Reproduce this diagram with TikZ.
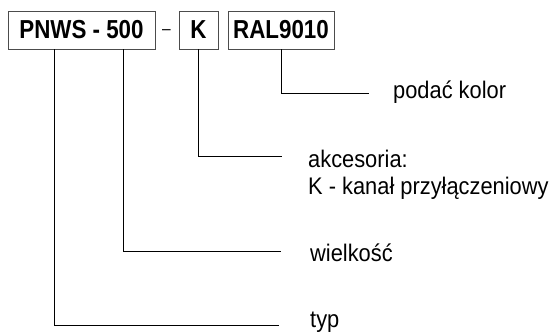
\documentclass[tikz,border=0pt]{standalone}
\usepackage{fontspec}
\setmainfont{Liberation Sans}[FakeStretch=0.91]
\newfontfamily\codefont{Liberation Sans}[FakeStretch=0.86]
\usetikzlibrary{positioning, calc}

\tikzset{
  codebox/.style={draw=black!70, line width=0.8pt, inner sep=0pt, minimum height=38pt,
    font=\codefont\bfseries\fontsize{26}{29}\selectfont},
  desc/.style={anchor=base west, inner sep=0pt, font=\fontsize{24}{28}\selectfont},
  lead/.style={line width=0.9pt}
}

\begin{document}
\begin{tikzpicture}[x=1pt, y=-1pt]
\useasboundingbox (0,0) rectangle (552,333);
\node[codebox, minimum width=147pt] (pnws) at (81.5,30) {PNWS - 500};
\node[desc, anchor=base, font=\fontsize{17}{20}\selectfont] (dash) at (166.5,34.5) {–};
\node[codebox, minimum width=39pt] (kbox) at (198.5,30) {K};
\node[codebox, minimum width=106pt] (ral) at (281,30) {RAL9010};
\node[desc] (kolor) at (393,98) {podać kolor};
\node[desc] (akces) at (308,167) {akcesoria:};
\node[desc] (kanal) at (308,194) {K - kanał przyłączeniowy};
\node[desc] (wielk) at (310,261) {wielkość};
\node[desc] (typ) at (310,327) {typ};
\coordinate (kolorend) at (369,93);
\coordinate (akcesend) at (282,156);
\coordinate (wielkend) at (281,251);
\coordinate (typend) at (279,325);
\draw[lead] (ral.south) |- (kolorend);
\draw[lead] (kbox.south) |- (akcesend);
\draw[lead] ([xshift=41.5]pnws.south) |- (wielkend);
\draw[lead] ([xshift=-27.5]pnws.south) |- (typend);
\end{tikzpicture}
\end{document}
